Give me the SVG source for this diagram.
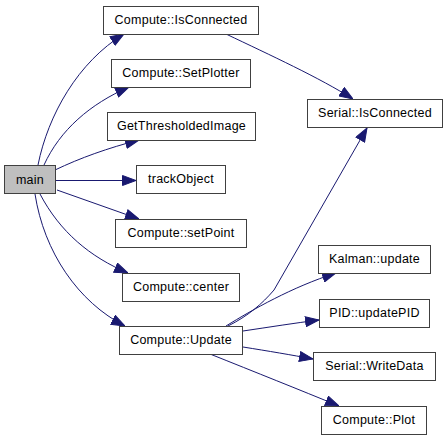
<svg xmlns="http://www.w3.org/2000/svg" width="448" height="440" viewBox="0 0 448 440">
<style>
.n rect{fill:#ffffff;stroke:#404040;stroke-width:1}
.n.root rect{fill:#bfbfbf}
.n text{font-family:"Liberation Sans",Arial,sans-serif;font-size:12.5px;letter-spacing:0.25px;fill:#000000;text-anchor:middle}
.e path{fill:none;stroke:#191970;stroke-width:1;marker-end:url(#ah)}
</style>
<defs>
<marker id="ah" markerUnits="userSpaceOnUse" markerWidth="14" markerHeight="11" viewBox="0 0 14 11" refX="14" refY="5.5" orient="auto">
<path d="M0.5,0.5 L14,5.5 L0.5,10.5 z" fill="#191970" stroke="#191970" stroke-width="1"/>
</marker>
</defs>
<rect width="448" height="440" fill="#ffffff"/>
<g id="edges" class="e">
<path d="M38,165 C48,115 78,62 124,34"/>
<path d="M44,165 C60,130 90,104 129,87"/>
<path d="M55,170 C80,158 108,148 139,140"/>
<path d="M56,180.5 L136,180.5"/>
<path d="M57,190 L139,219"/>
<path d="M40,194 C60,232 90,257 128,273"/>
<path d="M35,194 C44,252 78,302 125,326"/>
<path d="M226,34 C270,55 320,78 353,99"/>
<path d="M228,326 C248,316 262,304 274,290 L367,128"/>
<path d="M226,326 C252,310 292,287 336,273"/>
<path d="M243,331 C270,327 295,323 319,320"/>
<path d="M243,347 C268,351 292,355 313,359"/>
<path d="M210,354 C255,372 300,390 339,406"/>
</g>
<g id="main" class="n root"><rect x="4.5" y="165.5" width="51" height="28"/><text x="30" y="183.5">main</text></g>
<g id="compute_isconnected" class="n"><rect x="103.5" y="6.5" width="155" height="28"/><text x="181" y="24">Compute::IsConnected</text></g>
<g id="compute_setplotter" class="n"><rect x="111.5" y="59.5" width="139" height="28"/><text x="181" y="77">Compute::SetPlotter</text></g>
<g id="getthresholdedimage" class="n"><rect x="107.5" y="112.5" width="148" height="28"/><text x="181.5" y="130">GetThresholdedImage</text></g>
<g id="trackobject" class="n"><rect x="136.5" y="165.5" width="89" height="28"/><text x="181" y="183">trackObject</text></g>
<g id="compute_setpoint" class="n"><rect x="115.5" y="219.5" width="131" height="28"/><text x="181" y="237">Compute::setPoint</text></g>
<g id="compute_center" class="n"><rect x="122.5" y="273.5" width="117" height="28"/><text x="181" y="291">Compute::center</text></g>
<g id="compute_update" class="n"><rect x="119.5" y="326.5" width="123" height="28"/><text x="181" y="344">Compute::Update</text></g>
<g id="serial_isconnected" class="n"><rect x="307.5" y="99.5" width="135" height="28"/><text x="375" y="117">Serial::IsConnected</text></g>
<g id="kalman_update" class="n"><rect x="318.5" y="245.5" width="112" height="28"/><text x="374.5" y="263">Kalman::update</text></g>
<g id="pid_updatepid" class="n"><rect x="319.5" y="299.5" width="110" height="28"/><text x="374.5" y="317">PID::updatePID</text></g>
<g id="serial_writedata" class="n"><rect x="313.5" y="352.5" width="122" height="28"/><text x="374.5" y="370">Serial::WriteData</text></g>
<g id="compute_plot" class="n"><rect x="321.5" y="406.5" width="105" height="28"/><text x="374" y="424">Compute::Plot</text></g>
</svg>
